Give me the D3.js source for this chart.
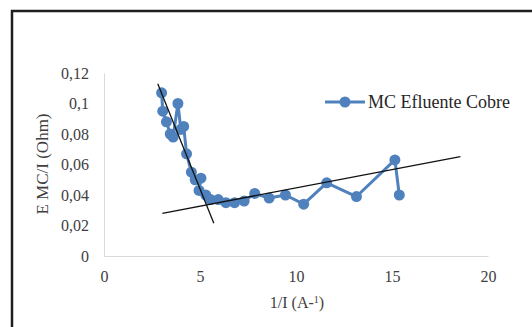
<!DOCTYPE html>
<html lang="es">
<head>
<meta charset="UTF-8">
<title>MC Efluente Cobre</title>
<script src="https://d3js.org/d3.v7.min.js"></script>
<style>
    body { margin: 0; background: #ffffff; }
    svg { display: block; }
</style>
</head>
<body>
<svg id="chart"></svg>
<script>
// datos
var invI = [3.0, 3.06, 3.25, 3.45, 3.6, 3.85, 4.0, 4.15, 4.3, 4.55, 4.75, 5.05, 4.95, 5.3, 5.55, 5.95, 6.35, 6.8, 7.3, 7.85, 8.6, 9.45, 10.4, 11.6, 13.15, 15.15, 15.38];
var emc = [0.107, 0.095, 0.088, 0.080, 0.078, 0.100, 0.083, 0.085, 0.067, 0.055, 0.050, 0.051, 0.043, 0.040, 0.037, 0.037, 0.035, 0.035, 0.036, 0.041, 0.038, 0.040, 0.034, 0.048, 0.039, 0.063, 0.040];

// lineas de tendencia (extremos)
var trendX1 = [2.8, 5.72], trendY1 = [0.113, 0.0214];
var trendX2 = [3.04, 18.56], trendY2 = [0.028, 0.0651];

var xTicks = [0, 5, 10, 15, 20];
var yTicks = [0, 0.02, 0.04, 0.06, 0.08, 0.1, 0.12];
var yTickLabels = ["0", "0,02", "0,04", "0,06", "0,08", "0,1", "0,12"];

var seriesName = "MC Efluente Cobre";
var color = "#4f81bd";
var serif = "'Liberation Serif', 'Times New Roman', serif";
var textColor = "#404040";

var width = 532, height = 327;

var svg = d3.select("#chart")
    .attr("width", width)
    .attr("height", height);

// marco
svg.append("rect")
    .attr("x", 12).attr("y", 11)
    .attr("width", 600).attr("height", 400)
    .attr("fill", "none")
    .attr("stroke", "#1e1e1e")
    .attr("stroke-width", 2.5);

var x = d3.scaleLinear().domain([0, 20]).range([104, 488]);
var y = d3.scaleLinear().domain([0, 0.12]).range([256, 73]);

function styleAxis(g) {
    g.attr("font-family", serif).attr("font-size", 16);
    g.select(".domain").attr("stroke", "#d9d9d9");
    g.selectAll(".tick text").attr("fill", textColor);
}

svg.append("g")
    .attr("transform", "translate(0,256)")
    .call(d3.axisBottom(x).tickValues(xTicks).tickSize(0).tickPadding(15))
    .call(styleAxis);

svg.append("g")
    .attr("transform", "translate(104,0)")
    .call(d3.axisLeft(y).tickValues(yTicks).tickSize(0).tickPadding(15)
        .tickFormat((d, i) => yTickLabels[i]))
    .call(styleAxis);

// titulos de ejes
var xt = svg.append("text")
    .attr("font-family", serif).attr("font-size", 16).attr("fill", textColor)
    .attr("x", 297).attr("y", 308)
    .attr("text-anchor", "middle");
xt.append("tspan").text("1/I (A-");
xt.append("tspan").attr("font-size", 10).attr("dy", -5).text("1");
xt.append("tspan").attr("dy", 5).text(")");

svg.append("text")
    .attr("font-family", serif).attr("font-size", 17).attr("fill", textColor)
    .attr("transform", "translate(48,164) rotate(-90)")
    .attr("text-anchor", "middle")
    .text("E MC/I (Ohm)");

// serie
var data = invI.map((v, i) => ({ x: v, y: emc[i] }));

svg.append("path")
    .datum(data)
    .attr("fill", "none")
    .attr("stroke", color)
    .attr("stroke-width", 3)
    .attr("stroke-linejoin", "round")
    .attr("d", d3.line().x(d => x(d.x)).y(d => y(d.y)));

svg.selectAll("circle.pt")
    .data(data)
    .enter().append("circle")
    .attr("class", "pt")
    .attr("cx", d => x(d.x))
    .attr("cy", d => y(d.y))
    .attr("r", 5.5)
    .attr("fill", color);

// tendencias
[[trendX1, trendY1], [trendX2, trendY2]].forEach(function (t) {
    svg.append("line")
        .attr("x1", x(t[0][0])).attr("y1", y(t[1][0]))
        .attr("x2", x(t[0][1])).attr("y2", y(t[1][1]))
        .attr("stroke", "#111")
        .attr("stroke-width", 1.3);
});

// leyenda
var lg = svg.append("g").attr("transform", "translate(325,102)");
lg.append("line").attr("x1", 0).attr("x2", 40).attr("y1", 0).attr("y2", 0)
    .attr("stroke", color).attr("stroke-width", 3);
lg.append("circle").attr("cx", 20).attr("cy", 0).attr("r", 5.5).attr("fill", color);
lg.append("text")
    .attr("font-family", serif).attr("font-size", 18).attr("fill", "#262626")
    .attr("x", 43).attr("y", 6)
    .text(seriesName);
</script>
</body>
</html>
